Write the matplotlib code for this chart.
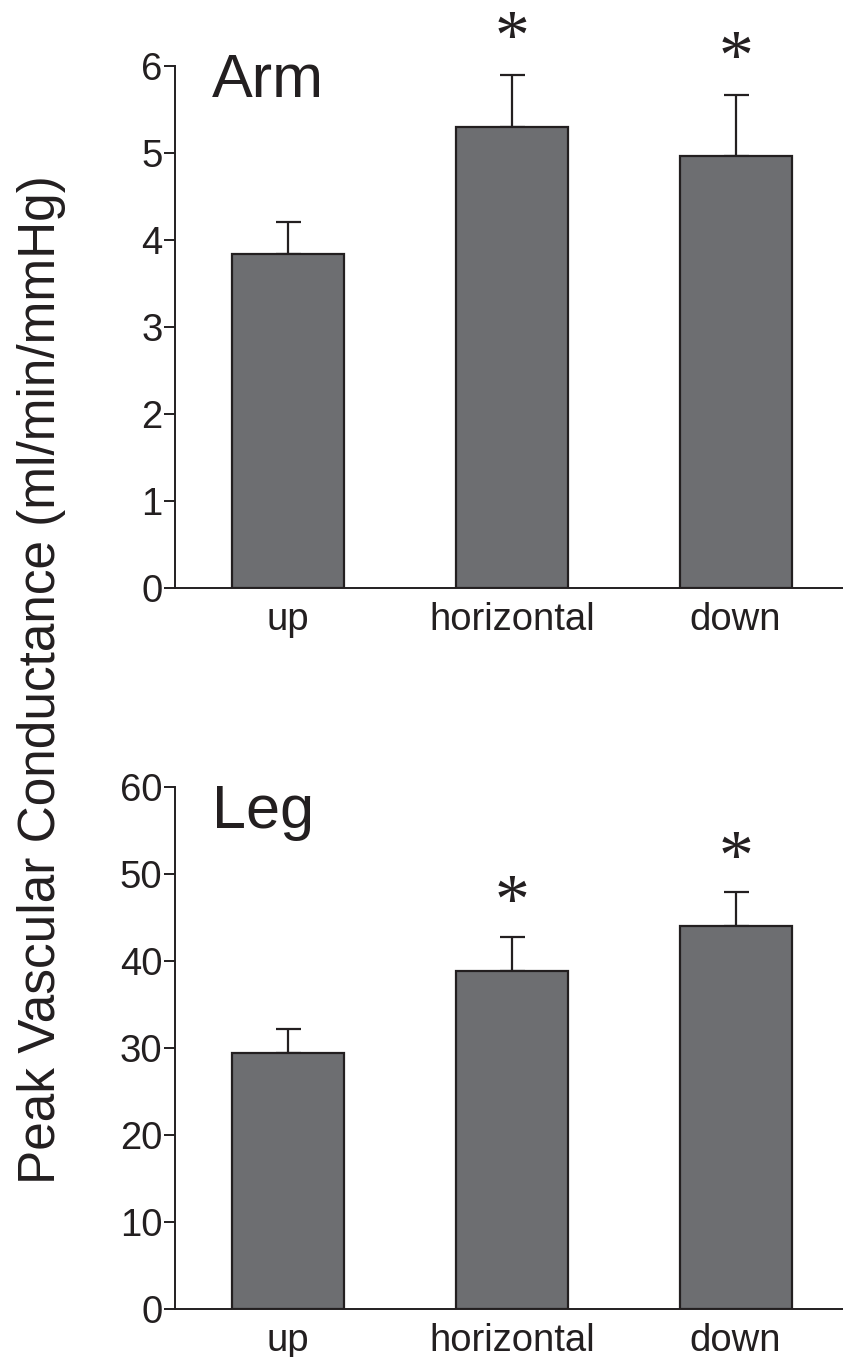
import matplotlib
matplotlib.use("Agg")
import matplotlib.pyplot as plt
import numpy as np

categories = ["up", "horizontal", "down"]
arm_values = [3.84, 5.30, 4.97]
arm_errors = [0.37, 0.60, 0.70]
arm_sig = [False, True, True]
leg_values = [29.4, 38.9, 44.0]
leg_errors = [2.8, 3.9, 3.9]
leg_sig = [False, True, True]
arm_ticks = [0, 1, 2, 3, 4, 5, 6]
leg_ticks = [0, 10, 20, 30, 40, 50, 60]

W, H = 843, 1357
fig = plt.figure(figsize=(W / 100, H / 100), dpi=100)

bar_color = "#6d6e71"
edge = "#231f20"
font = ["Liberation Sans", "DejaVu Sans"]

def panel(rect, values, errors, sig, ticks, ymax, title, title_y, star_offset):
    ax = fig.add_axes(rect)
    x = np.arange(len(categories))
    ax.bar(x, values, width=0.5, color=bar_color, edgecolor=edge, linewidth=1.6, zorder=2)
    ax.errorbar(x, values, yerr=[np.zeros(len(values)), errors], fmt="none",
                ecolor=edge, elinewidth=1.6, capsize=9, capthick=1.6, zorder=1)
    for xi, v, e, s in zip(x, values, errors, sig):
        if s:
            ax.text(xi, v + e + star_offset, "*", ha="center", va="center",
                    fontsize=50, family=["Liberation Serif"], color=edge)
    ax.set_xlim(-0.505, 2.48)
    ax.set_ylim(0, ymax)
    ax.set_yticks(ticks)
    ax.set_xticks(x)
    ax.set_xticklabels(categories)
    for sp in ["top", "right"]:
        ax.spines[sp].set_visible(False)
    for sp in ["left", "bottom"]:
        ax.spines[sp].set_linewidth(1.4)
        ax.spines[sp].set_color(edge)
    ax.tick_params(axis="y", length=8, width=1.4, color=edge, labelsize=27.5, pad=1, labelcolor=edge)
    ax.tick_params(axis="x", length=0, labelsize=27.5, pad=10, labelcolor=edge)
    for lab in ax.get_xticklabels() + ax.get_yticklabels():
        lab.set_family(font)
    ax.text(0.055, title_y, title, transform=ax.transAxes, ha="left", va="baseline",
            fontsize=44, family=font, color=edge)
    return ax

ax1 = panel([175 / W, 1 - 588 / H, 1 - 175 / W, 522 / H], arm_values, arm_errors, arm_sig,
            arm_ticks, 6, "Arm", 0.94, 0.38)
ax2 = panel([175 / W, 1 - 1309 / H, 1 - 175 / W, 522 / H], leg_values, leg_errors, leg_sig,
            leg_ticks, 60, "Leg", 0.921, 3.6)

fig.text(42 / W, 1 - 680 / H, "Peak Vascular Conductance (ml/min/mmHg)", rotation=90,
         ha="center", va="center", fontsize=37, family=font, color=edge)

fig.savefig("out.png", dpi=100)
